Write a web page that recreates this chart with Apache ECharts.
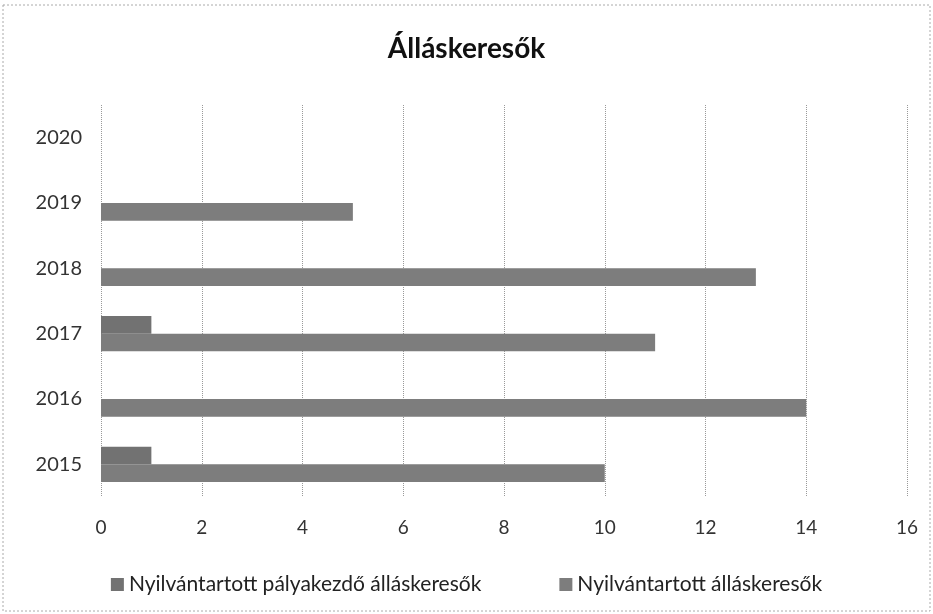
<!DOCTYPE html>
<html>
<head>
<meta charset="utf-8">
<script src="https://cdn.jsdelivr.net/npm/echarts@6/dist/echarts.min.js"></script>
<style>
  html, body { margin: 0; padding: 0; background: #fff; }
  #chart { width: 933px; height: 614px; }
</style>
</head>
<body>
<div id="chart"></div>
<script>
const years = ['2015', '2016', '2017', '2018', '2019', '2020']
const palyakezdo = [1, 0, 1, 0, 0, 0]
const allaskeresok = [10, 14, 11, 13, 5, 0]
const xTicks = [0, 16, 2]  // min, max, interval

const nameA = 'Nyilvántartott pályakezdő álláskeresők'
const nameB = 'Nyilvántartott álláskeresők'
const font = 'Lato, "Open Sans", sans-serif'

const chart = echarts.init(document.getElementById('chart'))
chart.setOption({
  animation: false,
  title: {
    text: 'Álláskeresők',
    left: 'center',
    top: 30,
    textStyle: { fontFamily: font, fontSize: 28, fontWeight: 'bold', color: '#111' }
  },
  legend: {
    data: [nameA, nameB],
    top: 569,
    left: 'center',
    icon: 'rect',
    itemWidth: 13,
    itemHeight: 13,
    itemGap: 78,
    textStyle: { fontFamily: font, fontSize: 21, color: '#222' }
  },
  grid: { left: 101, right: 26, top: 105, bottom: 117 },
  xAxis: {
    type: 'value',
    min: xTicks[0],
    max: xTicks[1],
    interval: xTicks[2],
    axisLine: { show: false },
    axisTick: { show: false },
    axisLabel: { fontFamily: font, fontSize: 19, color: '#333', margin: 21 },
    splitLine: { lineStyle: { type: 'dotted', color: '#999', width: 1 } }
  },
  yAxis: {
    type: 'category',
    data: years,
    axisLine: { show: false },
    axisTick: { show: false },
    axisLabel: { fontFamily: font, fontSize: 20, color: '#333', margin: 19 }
  },
  series: [
    {
      name: nameA,
      type: 'bar',
      data: palyakezdo,
      barGap: '0%',
      barCategoryGap: '46%',
      itemStyle: { color: '#727272' }
    },
    {
      name: nameB,
      type: 'bar',
      data: allaskeresok,
      itemStyle: { color: '#7d7d7d' }
    }
  ],
  graphic: [{
    type: 'rect',
    shape: { x: 3, y: 5, width: 927, height: 606 },
    style: { fill: 'none', stroke: '#aaa', lineWidth: 1, lineDash: [2, 2] },
    silent: true
  }]
})
</script>
</body>
</html>
